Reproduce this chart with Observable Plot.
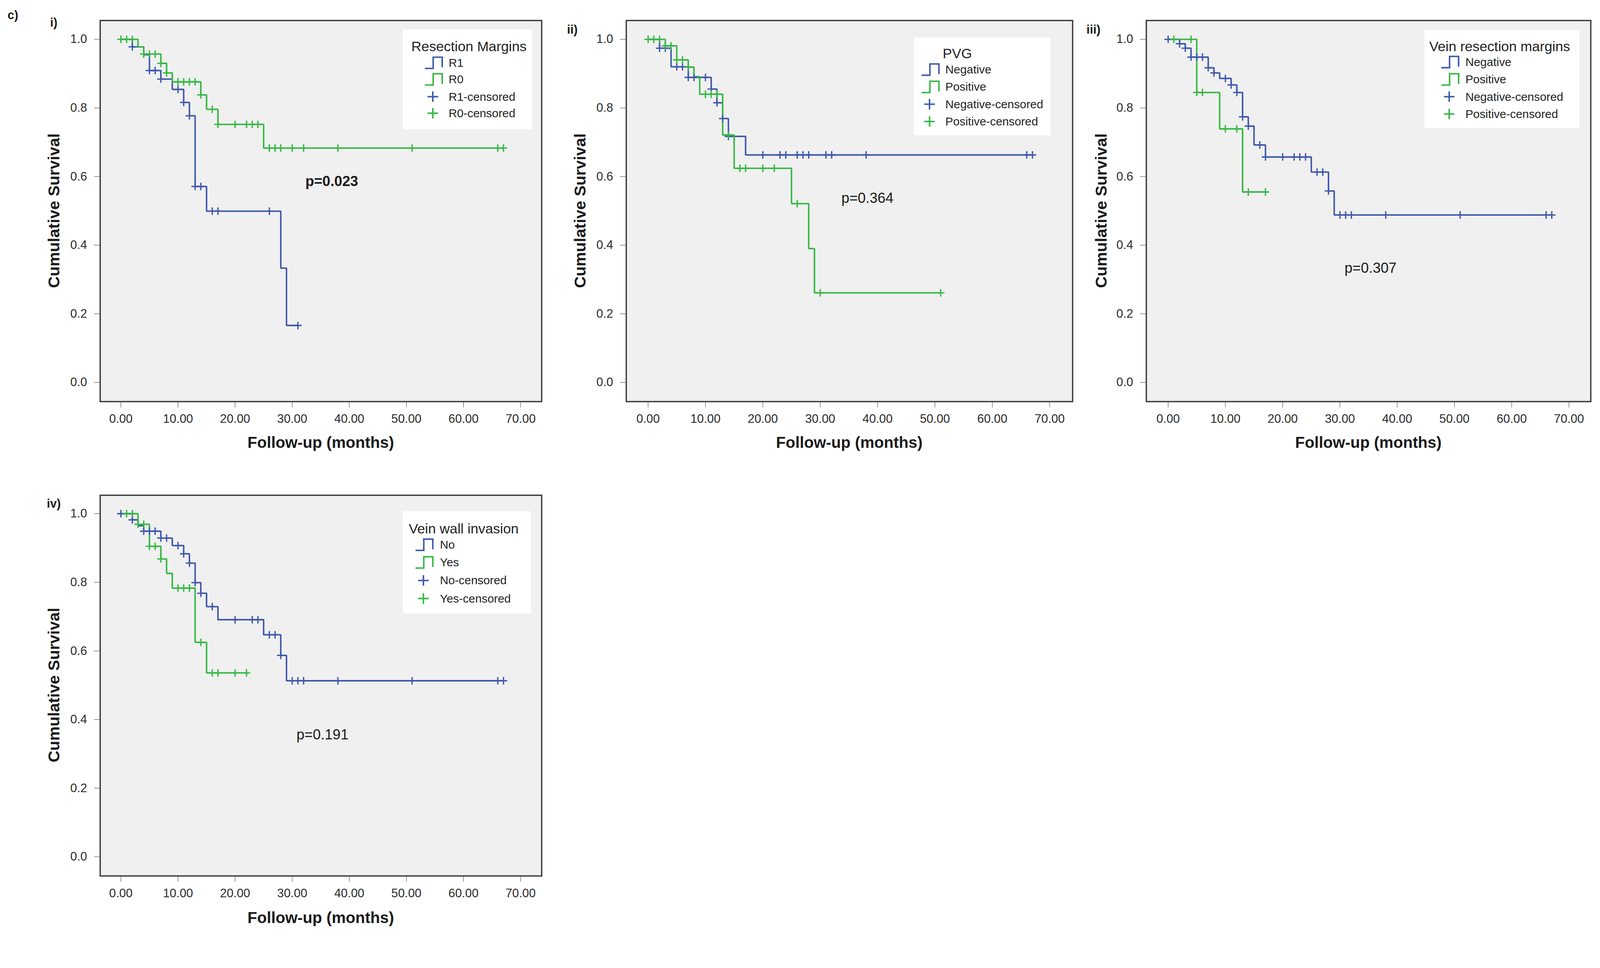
<!DOCTYPE html>
<html>
<head>
<meta charset="utf-8">
<script src="https://cdn.jsdelivr.net/npm/d3@7"></script>
<script src="https://cdn.jsdelivr.net/npm/@observablehq/plot@0.6"></script>
<style>
  html, body { margin: 0; padding: 0; background: #ffffff; overflow: hidden; }
  #wrap { position: relative; overflow: hidden; background: #ffffff; }
  #root { position: absolute; left: 0; top: 0; width: 4255px; height: 2477px; background: #ffffff; overflow: hidden;
          transform-origin: 0 0;
          font-family: "Liberation Sans", Arial, Helvetica, sans-serif; color: #1a1a1a; }
  .abs { position: absolute; white-space: nowrap; line-height: 1; }
  .plot { position: absolute; }
  .legend { position: absolute; background: #ffffff; }
</style>
</head>
<body>
<div id="wrap"><div id="root"></div></div>
<script>
// ---------------- DATA ----------------
const xTicks = [0, 10, 20, 30, 40, 50, 60, 70];
const yTicks = [0, 0.2, 0.4, 0.6, 0.8, 1.0];

// Panel i) Resection Margins
const r1Times = [0, 2, 4, 5, 7, 9, 11, 12, 13, 15, 28, 29];
const r1Surv  = [1, 0.978, 0.955, 0.909, 0.884, 0.854, 0.816, 0.777, 0.571, 0.499, 0.333, 0.166];
const r1End = 31;
const r1Cens  = [2, 5, 6, 7, 10, 11, 12, 13, 14, 16, 17, 26, 31];
const r0Times = [0, 3, 4, 7, 8, 9, 14, 15, 17, 25];
const r0Surv  = [1, 0.978, 0.957, 0.930, 0.902, 0.876, 0.838, 0.796, 0.752, 0.683];
const r0End = 67;
const r0Cens  = [0, 1, 2, 4, 5, 6, 7, 8, 10, 11, 12, 13, 14, 16, 17, 20, 22, 23, 24, 26, 27, 28, 30, 32, 38, 51, 66, 67];

// Panel ii) PVG
const pvgNegTimes = [0, 2, 4, 7, 11, 12, 13, 14, 17];
const pvgNegSurv  = [1, 0.974, 0.920, 0.889, 0.855, 0.815, 0.769, 0.717, 0.663];
const pvgNegEnd = 67;
const pvgNegCens  = [2, 3, 5, 6, 7, 8, 10, 11, 12, 13, 14, 20, 23, 24, 26, 27, 28, 31, 32, 38, 66, 67];
const pvgPosTimes = [0, 3, 5, 7, 8, 9, 13, 15, 25, 28, 29];
const pvgPosSurv  = [1, 0.981, 0.940, 0.919, 0.891, 0.840, 0.721, 0.624, 0.521, 0.390, 0.261];
const pvgPosEnd = 51;
const pvgPosCens  = [0, 1, 2, 3, 4, 5, 6, 7, 10, 11, 12, 14, 16, 17, 20, 22, 26, 30, 51];

// Panel iii) Vein resection margins
const vrmNegTimes = [0, 2, 3, 4, 7, 8, 9, 11, 12, 13, 14, 15, 17, 25, 28, 29];
const vrmNegSurv  = [1, 0.987, 0.974, 0.948, 0.917, 0.902, 0.886, 0.867, 0.845, 0.774, 0.747, 0.692, 0.657, 0.613, 0.558, 0.488];
const vrmNegEnd = 67;
const vrmNegCens  = [0, 2, 3, 4, 5, 6, 7, 8, 10, 11, 12, 13, 14, 16, 17, 20, 22, 23, 24, 26, 27, 28, 30, 31, 32, 38, 51, 66, 67];
const vrmPosTimes = [0, 5, 9, 13];
const vrmPosSurv  = [1, 0.845, 0.739, 0.555];
const vrmPosEnd = 17;
const vrmPosCens  = [1, 4, 5, 6, 10, 12, 14, 17];

// Panel iv) Vein wall invasion
const vwiNoTimes = [0, 2, 3, 4, 7, 9, 11, 12, 13, 14, 15, 17, 25, 28, 29];
const vwiNoSurv  = [1, 0.982, 0.965, 0.949, 0.929, 0.907, 0.883, 0.856, 0.799, 0.768, 0.729, 0.691, 0.647, 0.587, 0.513];
const vwiNoEnd = 67;
const vwiNoCens  = [0, 2, 4, 5, 6, 7, 8, 10, 11, 12, 13, 14, 16, 20, 23, 24, 26, 27, 28, 30, 31, 32, 38, 51, 66, 67];
const vwiYesTimes = [0, 3, 5, 7, 8, 9, 13, 15];
const vwiYesSurv  = [1, 0.969, 0.905, 0.868, 0.826, 0.783, 0.625, 0.536];
const vwiYesEnd = 22;
const vwiYesCens  = [1, 2, 3, 4, 5, 6, 7, 10, 11, 12, 14, 16, 17, 20, 22];

const pValues = ["p=0.023", "p=0.364", "p=0.307", "p=0.191"];
const legendTitles = ["Resection Margins", "PVG", "Vein resection margins", "Vein wall invasion"];

// ---------------- STYLE / LAYOUT ----------------
const BLUE = "#3e58ac", GREEN = "#35b844";
const FONT = '"Liberation Sans", Arial, Helvetica, sans-serif';
const PAGE_W = 4255, PAGE_H = 2477;

const panels = [
  { label: "i)", labelPos: [143, 60],
    frame: { l: 266, t: 54, r: 1440, b: 1067 }, x0: 321, x70: 1384, y1: 104, y0: 1016,
    groups: [
      { name: "R1", times: r1Times, surv: r1Surv, end: r1End, cens: r1Cens, color: BLUE },
      { name: "R0", times: r0Times, surv: r0Surv, end: r0End, cens: r0Cens, color: GREEN } ],
    p: { text: pValues[0], x: 32.3, y: 0.586, bold: true },
    legend: { title: legendTitles[0], box: [1071, 78, 344, 265], titleX: 1094, titleY: 124, rows: [167, 211, 257, 301], iconX: 1128, textX: 1193 },
    yLabelX: 143, xLabelY: 1176 },
  { label: "ii)", labelPos: [1522, 78],
    frame: { l: 1665, t: 54, r: 2852, b: 1067 }, x0: 1723, x70: 2791, y1: 104, y0: 1016,
    groups: [
      { name: "Negative", times: pvgNegTimes, surv: pvgNegSurv, end: pvgNegEnd, cens: pvgNegCens, color: BLUE },
      { name: "Positive", times: pvgPosTimes, surv: pvgPosSurv, end: pvgPosEnd, cens: pvgPosCens, color: GREEN } ],
    p: { text: pValues[1], x: 33.7, y: 0.537, bold: false },
    legend: { title: legendTitles[1], box: [2431, 100, 363, 260], titleX: 2507, titleY: 142, rows: [185, 231, 277, 323], iconX: 2449, textX: 2514 },
    yLabelX: 1543, xLabelY: 1176 },
  { label: "iii)", labelPos: [2908, 78],
    frame: { l: 3048, t: 54, r: 4230, b: 1067 }, x0: 3106, x70: 4172, y1: 104, y0: 1016,
    groups: [
      { name: "Negative", times: vrmNegTimes, surv: vrmNegSurv, end: vrmNegEnd, cens: vrmNegCens, color: BLUE },
      { name: "Positive", times: vrmPosTimes, surv: vrmPosSurv, end: vrmPosEnd, cens: vrmPosCens, color: GREEN } ],
    p: { text: pValues[2], x: 30.8, y: 0.333, bold: false },
    legend: { title: legendTitles[2], box: [3788, 80, 412, 261], titleX: 3801, titleY: 124, rows: [165, 211, 257, 303], iconX: 3831, textX: 3897 },
    yLabelX: 2928, xLabelY: 1176 },
  { label: "iv)", labelPos: [143, 1338],
    frame: { l: 266, t: 1316, r: 1440, b: 2328 }, x0: 321, x70: 1384, y1: 1365, y0: 2277,
    groups: [
      { name: "No", times: vwiNoTimes, surv: vwiNoSurv, end: vwiNoEnd, cens: vwiNoCens, color: BLUE },
      { name: "Yes", times: vwiYesTimes, surv: vwiYesSurv, end: vwiYesEnd, cens: vwiYesCens, color: GREEN } ],
    p: { text: pValues[3], x: 30.75, y: 0.355, bold: false },
    legend: { title: legendTitles[3], box: [1071, 1359, 341, 272], titleX: 1087, titleY: 1405, rows: [1448, 1495, 1543, 1591], iconX: 1103, textX: 1170 },
    yLabelX: 143, xLabelY: 2440 }
];

// ---------------- HELPERS ----------------
function kmLine(times, surv, end) {
  const pts = times.map((t, i) => ({ t, s: surv[i] }));
  pts.push({ t: end, s: surv[surv.length - 1] });
  return pts;
}
function survAt(times, surv, t) {
  let s = surv[0];
  for (let i = 0; i < times.length; i++) if (times[i] <= t) s = surv[i];
  return s;
}
function censPoints(times, surv, c) {
  return c.map(t => ({ t, s: survAt(times, surv, t) }));
}
const plusSymbol = {
  draw(context, size) {
    const r = Math.sqrt(size / Math.PI);
    context.moveTo(-r, 0); context.lineTo(r, 0);
    context.moveTo(0, -r); context.lineTo(0, r);
  }
};

const wrap = document.getElementById("wrap");
const root = document.getElementById("root");
function fit() {
  const vw = window.innerWidth || document.documentElement.clientWidth || PAGE_W;
  const vh = window.innerHeight || document.documentElement.clientHeight || PAGE_H;
  const s = Math.min(vw / PAGE_W, vh / PAGE_H);
  root.style.transform = `scale(${s})`;
  wrap.style.width = (PAGE_W * s) + "px";
  wrap.style.height = (PAGE_H * s) + "px";
}
fit();
window.addEventListener("resize", fit);

function addText(txt, x, y, opts = {}) {
  const d = document.createElement("div");
  d.className = "abs";
  d.textContent = txt;
  d.style.left = x + "px";
  d.style.top = y + "px";
  d.style.fontSize = (opts.size || 32) + "px";
  d.style.fontWeight = opts.bold ? "bold" : "normal";
  d.style.color = opts.color || "#1a1a1a";
  d.style.transform = opts.transform || "translateY(-50%)";
  root.appendChild(d);
  return d;
}

const ML = 120, MR = 8, MT = 8, MB = 90;

// "c)" figure label
addText("c)", 20, 40, { size: 32, bold: true });

panels.forEach(P => {
  const f = P.frame;
  const kx = (P.x70 - P.x0) / 70;
  const ky = (P.y0 - P.y1);
  const xDomain = [(f.l - P.x0) / kx, (f.r - P.x0) / kx];
  const yDomain = [(P.y0 - f.b) / ky, (P.y0 - f.t) / ky];
  const width = (f.r - f.l) + ML + MR;
  const height = (f.b - f.t) + MT + MB;

  const marks = [Plot.frame({ fill: "#f0f0f0", stroke: "none" })];
  P.groups.forEach(g => {
    marks.push(Plot.line(kmLine(g.times, g.surv, g.end), {
      x: "t", y: "s", curve: "step-after", stroke: g.color, strokeWidth: 4,
      strokeLinejoin: "miter", strokeLinecap: "butt"
    }));
  });
  P.groups.forEach(g => {
    marks.push(Plot.dot(censPoints(g.times, g.surv, g.cens), {
      x: "t", y: "s", symbol: plusSymbol, r: 10, stroke: g.color, strokeWidth: 3.5, fill: "none"
    }));
  });
  marks.push(Plot.text([P.p], {
    x: "x", y: "y", text: "text", textAnchor: "start", fontSize: 38,
    fontWeight: P.p.bold ? "bold" : "normal", fill: "#1a1a1a"
  }));
  marks.push(Plot.frame({ stroke: "#3a3a3a", strokeWidth: 3.5 }));

  const chart = Plot.plot({
    width, height,
    marginLeft: ML, marginRight: MR, marginTop: MT, marginBottom: MB,
    x: { domain: xDomain, ticks: xTicks, tickFormat: d => d.toFixed(2), tickSize: 16, tickPadding: 18, label: null },
    y: { domain: yDomain, ticks: yTicks, tickFormat: d => d.toFixed(1), tickSize: 16, tickPadding: 19, label: null },
    style: { fontFamily: FONT, fontSize: "32px", color: "#2a2a2a", background: "transparent", overflow: "visible" },
    marks
  });
  chart.classList.add("plot");
  chart.style.left = (f.l - ML) + "px";
  chart.style.top = (f.t - MT) + "px";
  root.appendChild(chart);

  // panel label
  addText(P.label, P.labelPos[0], P.labelPos[1], { size: 32, bold: true, transform: "translate(-50%,-50%)" });

  // axis titles
  addText("Cumulative Survival", P.yLabelX, (P.y0 + P.y1) / 2, { size: 43, bold: true, transform: "translate(-50%,-50%) rotate(-90deg)" });
  addText("Follow-up (months)", (f.l + f.r) / 2, P.xLabelY, { size: 42, bold: true, transform: "translate(-50%,-50%)" });

  // legend
  const L = P.legend;
  const box = document.createElement("div");
  box.className = "legend";
  box.style.left = L.box[0] + "px"; box.style.top = L.box[1] + "px";
  box.style.width = L.box[2] + "px"; box.style.height = L.box[3] + "px";
  root.appendChild(box);
  addText(L.title, L.titleX, L.titleY, { size: 37, color: "#222" });
  const names = [P.groups[0].name, P.groups[1].name, P.groups[0].name + "-censored", P.groups[1].name + "-censored"];
  const colors = [P.groups[0].color, P.groups[1].color, P.groups[0].color, P.groups[1].color];
  names.forEach((nm, i) => {
    const cy = L.rows[i];
    const svg = document.createElementNS("http://www.w3.org/2000/svg", "svg");
    svg.setAttribute("width", 52); svg.setAttribute("height", 40);
    svg.style.position = "absolute";
    svg.style.left = L.iconX + "px";
    svg.style.top = (cy - 20) + "px";
    const path = document.createElementNS("http://www.w3.org/2000/svg", "path");
    if (i < 2) {
      path.setAttribute("d", "M2,35 H24 V5 H48 V32");
    } else {
      path.setAttribute("d", "M9,20 H37 M23,6 V34");
    }
    path.setAttribute("fill", "none");
    path.setAttribute("stroke", colors[i]);
    path.setAttribute("stroke-width", 4);
    svg.appendChild(path);
    root.appendChild(svg);
    addText(nm, L.textX, cy, { size: 31, color: "#222" });
  });
});
</script>
</body>
</html>
